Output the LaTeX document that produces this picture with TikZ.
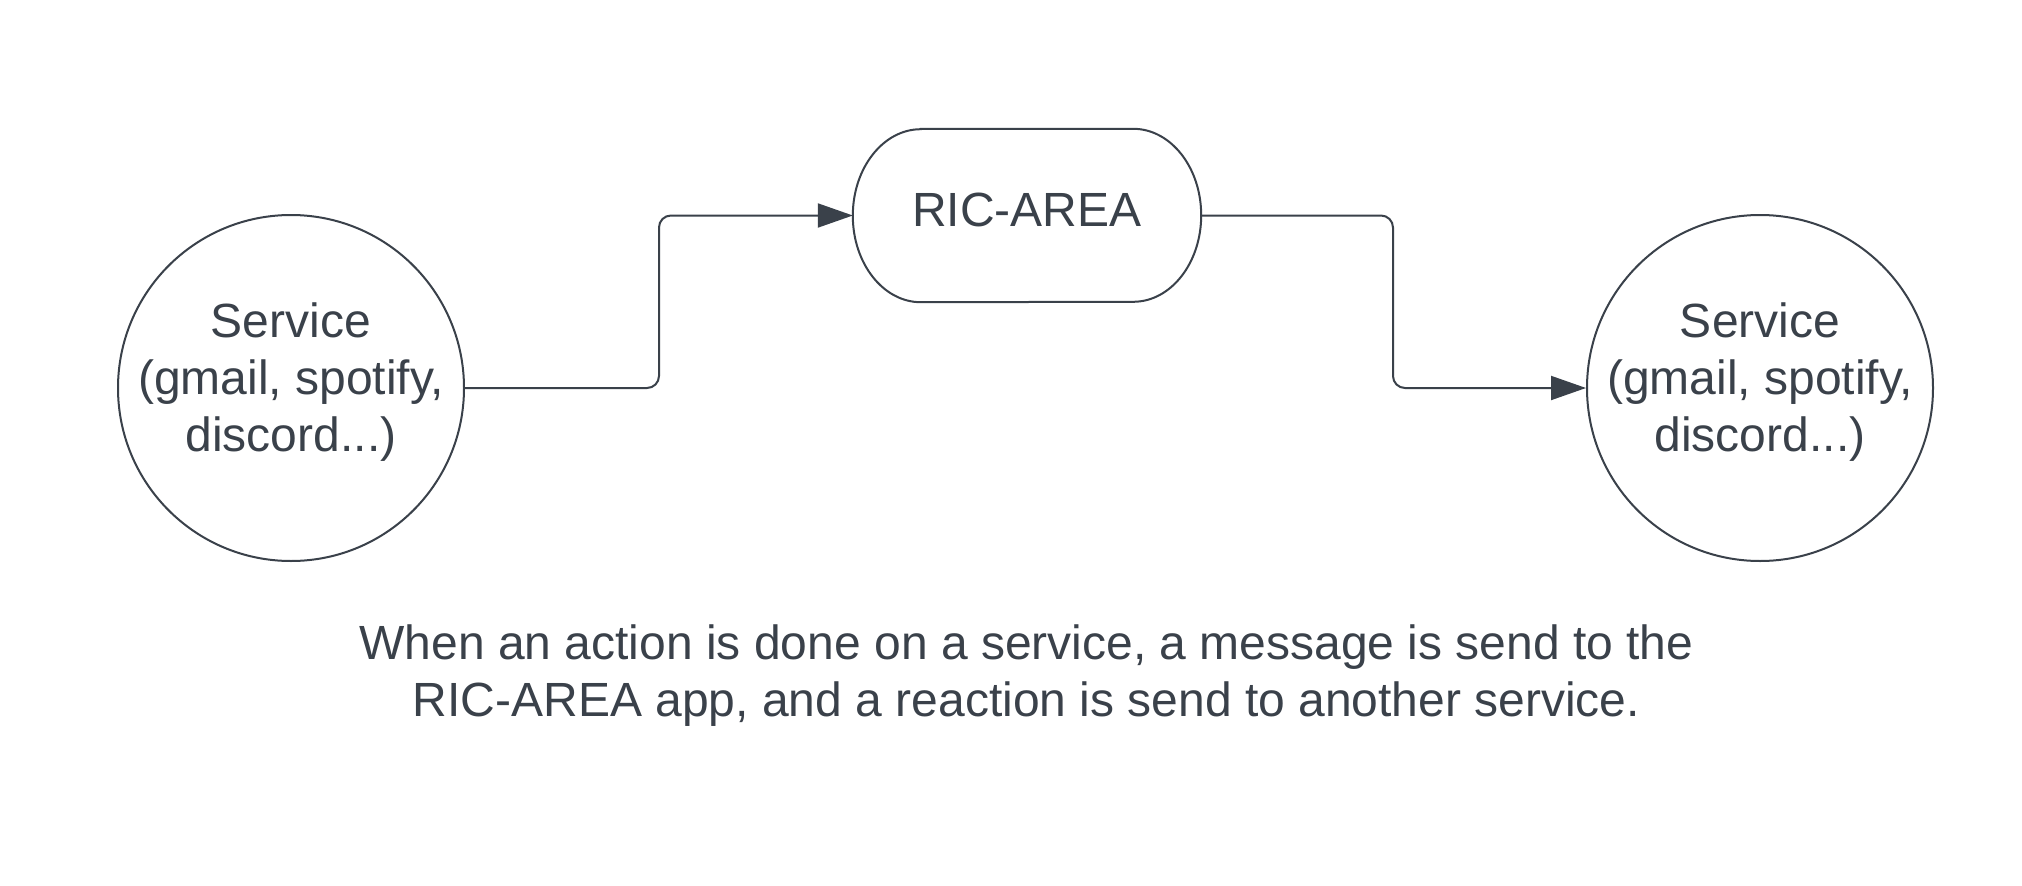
\documentclass[tikz,border=0pt]{standalone}
\usepackage{fontspec}
\setmainfont{Liberation Sans}
\usetikzlibrary{arrows.meta}
\definecolor{ink}{HTML}{3A414A}
\begin{document}
\begin{tikzpicture}[x=1pt,y=-1pt,
  svc/.style={circle,draw=ink,line width=2pt,minimum size=346pt,inner sep=0pt,text=ink,align=center,font=\fontsize{48}{56.7}\selectfont},
  conn/.style={draw=ink,line width=2pt,rounded corners=12pt,-{Triangle[length=35pt,width=24pt]}},
  lbl/.style={text=ink,align=center,font=\fontsize{48}{57}\selectfont}]
\useasboundingbox[fill=white] (0,0) rectangle (2022,886);
\node[svc] (s1) at (291,388) {};
\node[svc] (s2) at (1760,388) {};
\node[text=ink,align=center,font=\fontsize{48}{56.7}\selectfont] (t1) at (291,382) {Service\\(gmail, spotify,\\discord...)};
\node[text=ink,align=center,font=\fontsize{48}{56.7}\selectfont] (t2) at (1760,382) {Service\\(gmail, spotify,\\discord...)};
\node[minimum width=348pt,minimum height=173pt,inner sep=0pt] (ric) at (1027,215.5) {};
\node[text=ink,font=\fontsize{48}{56}\selectfont] (rict) at (1027,210) {RIC-AREA};
\draw[ink,line width=2pt]
  ([xshift=68pt]ric.north west) -- ([xshift=-68pt]ric.north east)
  arc[start angle=90,end angle=-90,x radius=68pt,y radius=86.5pt]
  -- ([xshift=68pt]ric.south west)
  arc[start angle=270,end angle=90,x radius=68pt,y radius=86.5pt] -- cycle;
\coordinate (c1) at (659,0);
\coordinate (c2) at (1393,0);
\draw[conn] (s1.east) -- (s1.east -| c1) -- (ric.west -| c1) -- (ric.west);
\draw[conn] (ric.east) -- (ric.east -| c2) -- (s2.west -| c2) -- (s2.west);
\node[lbl] (note) at (1026.5,676) {When an action is done on a service, a message is send to the\\RIC-AREA app, and a reaction is send to another service.};
\end{tikzpicture}
\end{document}
